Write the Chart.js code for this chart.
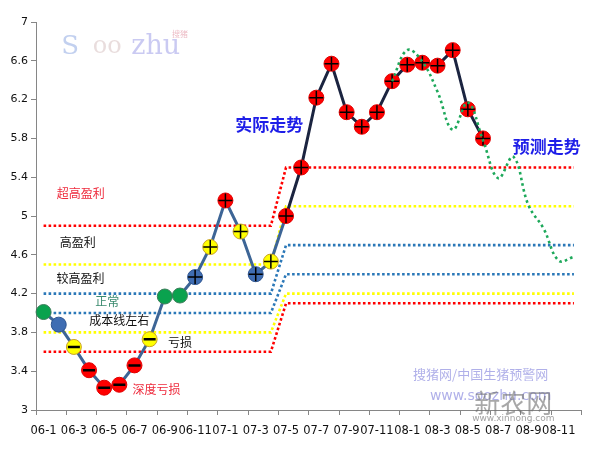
<!DOCTYPE html>
<html>
<head>
<meta charset="utf-8">
<script src="https://cdn.jsdelivr.net/npm/chart.js@4.4.1/dist/chart.umd.min.js"></script>
<style>
  html, body { margin: 0; padding: 0; background: #fff; }
  #wrap { width: 590px; height: 454px; position: relative; }
</style>
</head>
<body>
<div id="wrap"><canvas id="trendChart"></canvas></div>
<script>
// months on the category axis, 06-1 .. 08-12
const months = [
  '06-1', '06-2', '06-3', '06-4', '06-5', '06-6', '06-7', '06-8', '06-9', '06-10', '06-11', '06-12',
  '07-1', '07-2', '07-3', '07-4', '07-5', '07-6', '07-7', '07-8', '07-9', '07-10', '07-11', '07-12',
  '08-1', '08-2', '08-3', '08-4', '08-5', '08-6', '08-7', '08-8', '08-9', '08-10', '08-11', '08-12'
];

// actual trend (06-1 .. 08-6)
const actualPrice = [4.01, 3.88, 3.65, 3.41, 3.23, 3.26, 3.46, 3.73, 4.17, 4.18, 4.37, 4.68,
                     5.16, 4.84, 4.40, 4.53, 5.00, 5.50, 6.22, 6.57, 6.07, 5.92, 6.07, 6.39,
                     6.56, 6.58, 6.55, 6.71, 6.10, 5.80];

// forecast trend, starts at 07-12
const forecastStart = 23;
const forecastPrice = [6.39, 6.71, 6.59, 6.28, 5.89, 6.17, 5.78, 5.39, 5.61, 5.11, 4.87, 4.54, 4.58];

// band boundary lines: level before and after 07-5
const bandSwitch = 16;
const bandBefore = [4.9, 4.5, 4.2, 4.0, 3.8, 3.6];
const bandAfter  = [5.5, 5.1, 4.7, 4.4, 4.2, 4.1];

const yTicks = [3, 3.4, 3.8, 4.2, 4.6, 5, 5.4, 5.8, 6.2, 6.6, 7];

// marker state of each actual point: g=normal(green) b=cost line(blue) y=yellow r=red
const pointState = ['g','b','y','r','r','r','r','y','g','g','b','y',
                    'r','y','b','y','r','r','r','r','r','r','r','r',
                    'r','r','r','r','r','r'];
// overlay sign on each point: '' none, '-' loss, '+' profit
const pointSign = ['','','-','-','-','-','-','-','','','+','+',
                   '+','+','+','+','+','+','+','+','+','+','+','+',
                   '+','+','+','+','+','+'];

const fillOf = { g: '#0AA24E', b: '#3F6DB3', y: '#FFFF00', r: '#FF0000' };
const edgeOf = { g: '#3C7D5A', b: '#2E5590', y: '#C9A227', r: '#E00000' };
const bandColors = ['#FF0000', '#FFFF00', '#2B78B8', '#2B78B8', '#FFFF00', '#FF0000'];

const bandSets = bandBefore.map(function (lv, k) {
    return {
        data: months.map(function (m, i) { return i < bandSwitch ? lv : bandAfter[k]; }),
        borderColor: bandColors[k],
        borderWidth: 2.6,
        borderDash: [2.6, 2.4],
        pointRadius: 0,
        tension: 0,
        fill: false,
        order: 5
    };
});

const forecastData = months.map(function (m, i) {
    const k = i - forecastStart;
    return k >= 0 && k < forecastPrice.length ? forecastPrice[k] : null;
});

const notes = [
    { text: '实际走势', x: 14.9, y: 5.94, color: '#1E1EE8', font: 'bold 17px "Noto Sans CJK SC"' },
    { text: '预测走势', x: 33.2, y: 5.72, color: '#1E1EE8', font: 'bold 17px "Noto Sans CJK SC"' },
    { text: '超高盈利', x: 2.46, y: 5.23, color: '#EE2A3C', font: '12px "Noto Sans CJK SC"' },
    { text: '高盈利', x: 2.26, y: 4.73, color: '#111', font: '12px "Noto Sans CJK SC"' },
    { text: '较高盈利', x: 2.43, y: 4.36, color: '#111', font: '12px "Noto Sans CJK SC"' },
    { text: '正常', x: 4.2, y: 4.12, color: '#3A8A6E', font: '12px "Noto Sans CJK SC"' },
    { text: '成本线左右', x: 5.0, y: 3.92, color: '#111', font: '12px "Noto Sans CJK SC"' },
    { text: '亏损', x: 9.0, y: 3.70, color: '#111', font: '12px "Noto Sans CJK SC"' },
    { text: '深度亏损', x: 7.46, y: 3.21, color: '#EE2A3C', font: '12px "Noto Sans CJK SC"' }
];

const marks = [
    { text: '搜猪网/中国生猪预警网', x: 28.84, y: 3.37, color: 'rgba(150,150,225,0.75)', font: '13px "Noto Sans CJK SC"' },
    { text: 'www.soozhu.com', x: 29.5, y: 3.14, color: 'rgba(150,150,225,0.75)', font: '14px "DejaVu Sans"' },
    { text: '新农网', x: 31.0, y: 3.07, color: 'rgba(110,110,110,0.6)', font: '26px "Noto Sans CJK SC"' },
    { text: 'www.xinnong.com', x: 31.0, y: 2.91, color: 'rgba(120,120,120,0.7)', font: '9px "DejaVu Sans"' },
    { text: 'S', x: 1.75, y: 6.74, color: 'rgba(120,150,220,0.45)', font: '26px "DejaVu Serif"' },
    { text: 'oo', x: 4.2, y: 6.74, color: 'rgba(200,170,170,0.4)', font: '24px "DejaVu Serif"' },
    { text: 'zhu', x: 7.4, y: 6.74, color: 'rgba(150,150,230,0.5)', font: '27px "DejaVu Serif"' },
    { text: '搜猪', x: 9.0, y: 6.88, color: 'rgba(220,120,140,0.5)', font: '8px "Noto Sans CJK SC"' }
];

function drawTexts(chart, list) {
    const ctx = chart.ctx;
    const xs = chart.scales.x, ys = chart.scales.y;
    ctx.save();
    ctx.textAlign = 'center';
    ctx.textBaseline = 'middle';
    list.forEach(function (n) {
        ctx.font = n.font;
        ctx.fillStyle = n.color;
        ctx.fillText(n.text, xs.getPixelForValue(n.x), ys.getPixelForValue(n.y));
    });
    ctx.restore();
}

const textPlugin = {
    id: 'texts',
    beforeDatasetsDraw: function (chart) { drawTexts(chart, marks); },
    afterDatasetsDraw: function (chart) { drawTexts(chart, notes); }
};

new Chart(document.getElementById('trendChart'), {
    type: 'line',
    data: {
        labels: months,
        datasets: [
            {
                // forecast, dotted green smooth line on top
                data: forecastData,
                borderColor: '#1DA85A',
                borderWidth: 2.6,
                borderDash: [2.6, 3.2],
                pointRadius: 0,
                tension: 0.4,
                fill: false,
                order: 0
            },
            {
                // + / - signs over the markers
                data: actualPrice,
                showLine: false,
                pointStyle: pointSign.map(function (s) { return s === '-' ? 'line' : 'cross'; }),
                pointRadius: pointSign.map(function (s) { return s === '' ? 0 : (s === '-' ? 6 : 7); }),
                pointBorderColor: '#000',
                pointBorderWidth: pointSign.map(function (s) { return s === '-' ? 2.5 : 1.5; }),
                order: 1
            },
            {
                data: actualPrice,
                borderWidth: 3,
                borderColor: '#3D6596',
                segment: {
                    borderColor: function (c) { return c.p0DataIndex >= 16 ? '#1B2440' : '#3D6596'; }
                },
                pointRadius: 7.5,
                pointBackgroundColor: pointState.map(function (s) { return fillOf[s]; }),
                pointBorderColor: pointState.map(function (s) { return edgeOf[s]; }),
                pointBorderWidth: 1,
                tension: 0,
                fill: false,
                order: 2
            }
        ].concat(bandSets)
    },
    options: {
        responsive: true,
        maintainAspectRatio: false,
        animation: false,
        events: [],
        layout: { padding: { left: 0, right: 7, top: 22, bottom: 0 } },
        plugins: {
            legend: { display: false },
            tooltip: { enabled: false }
        },
        scales: {
            x: {
                offset: true,
                afterFit: function (s) { s.height = 44; },
                border: { color: '#868686', width: 1 },
                grid: {
                    offset: true,
                    drawOnChartArea: false,
                    tickLength: 5,
                    color: function (c) {
                        return (c.index === undefined || c.index % 2 === 0) ? '#868686' : 'rgba(0,0,0,0)';
                    }
                },
                ticks: {
                    autoSkip: false,
                    maxRotation: 0,
                    padding: 9,
                    color: '#111',
                    font: { family: 'DejaVu Sans', size: 11.5 },
                    callback: function (v, i) { return i % 2 === 0 ? months[i] : ''; }
                }
            },
            y: {
                min: 3,
                max: 7,
                afterFit: function (s) { s.width = 36; },
                afterBuildTicks: function (s) { s.ticks = yTicks.map(function (v) { return { value: v }; }); },
                border: { color: '#868686', width: 1 },
                grid: { drawOnChartArea: false, tickLength: 5, color: '#868686' },
                ticks: {
                    padding: 3,
                    color: '#111',
                    font: { family: 'DejaVu Sans', size: 11 },
                    callback: function (v) { return String(Math.round(v * 10) / 10); }
                }
            }
        }
    },
    plugins: [textPlugin]
});
</script>
</body>
</html>
